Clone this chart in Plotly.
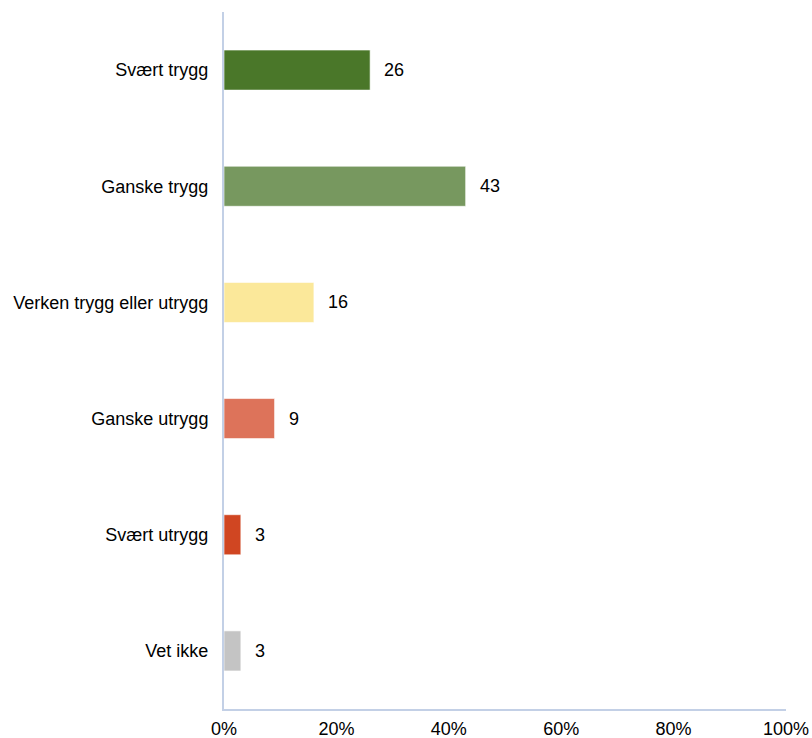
import plotly.graph_objects as go

categories = ["Svært trygg", "Ganske trygg", "Verken trygg eller utrygg",
              "Ganske utrygg", "Svært utrygg", "Vet ikke"]
values = [26, 43, 16, 9, 3, 3]
colors = ["#4A7729", "#77985F", "#FBE89A", "#DD735A", "#D04622", "#C4C4C4"]
tick_vals = [0, 20, 40, 60, 80, 100]
tick_text = ["0%", "20%", "40%", "60%", "80%", "100%"]

FONT = "Liberation Sans, Arial"

fig = go.Figure()
fig.add_trace(go.Bar(
    y=categories, x=values, orientation="h",
    marker=dict(color=colors, line=dict(color="rgba(255,255,255,0.6)", width=1)),
    hoverinfo="skip",
))
for c, v in zip(categories, values):
    fig.add_annotation(x=v, y=c, text=str(v), showarrow=False,
                       xanchor="left", xshift=12,
                       font=dict(family=FONT, size=18, color="#000"))

fig.update_layout(
    width=812, height=738,
    margin=dict(l=224, r=26, t=12, b=29, autoexpand=False),
    paper_bgcolor="white", plot_bgcolor="white",
    showlegend=False, bargap=0.655,
    font=dict(family=FONT, size=18, color="#000"),
    xaxis=dict(range=[0, 100], tickvals=tick_vals, ticktext=tick_text,
               showgrid=False, zeroline=False, showline=True,
               linecolor="#C3D0E6", linewidth=2, ticks="", ticklabelstandoff=2,
               fixedrange=True),
    yaxis=dict(categoryorder="array", categoryarray=categories[::-1],
               showgrid=False, zeroline=False, showline=True,
               linecolor="#C3D0E6", linewidth=2, ticks="", ticklabelstandoff=10,
               fixedrange=True),
)
html = fig.to_html(config={"displayModeBar": False})
html = html.replace("<head>", "<head><style>html,body{margin:0;padding:0;overflow:hidden}</style>", 1)
with open("out.html", "w", encoding="utf-8") as f:
    f.write(html)
